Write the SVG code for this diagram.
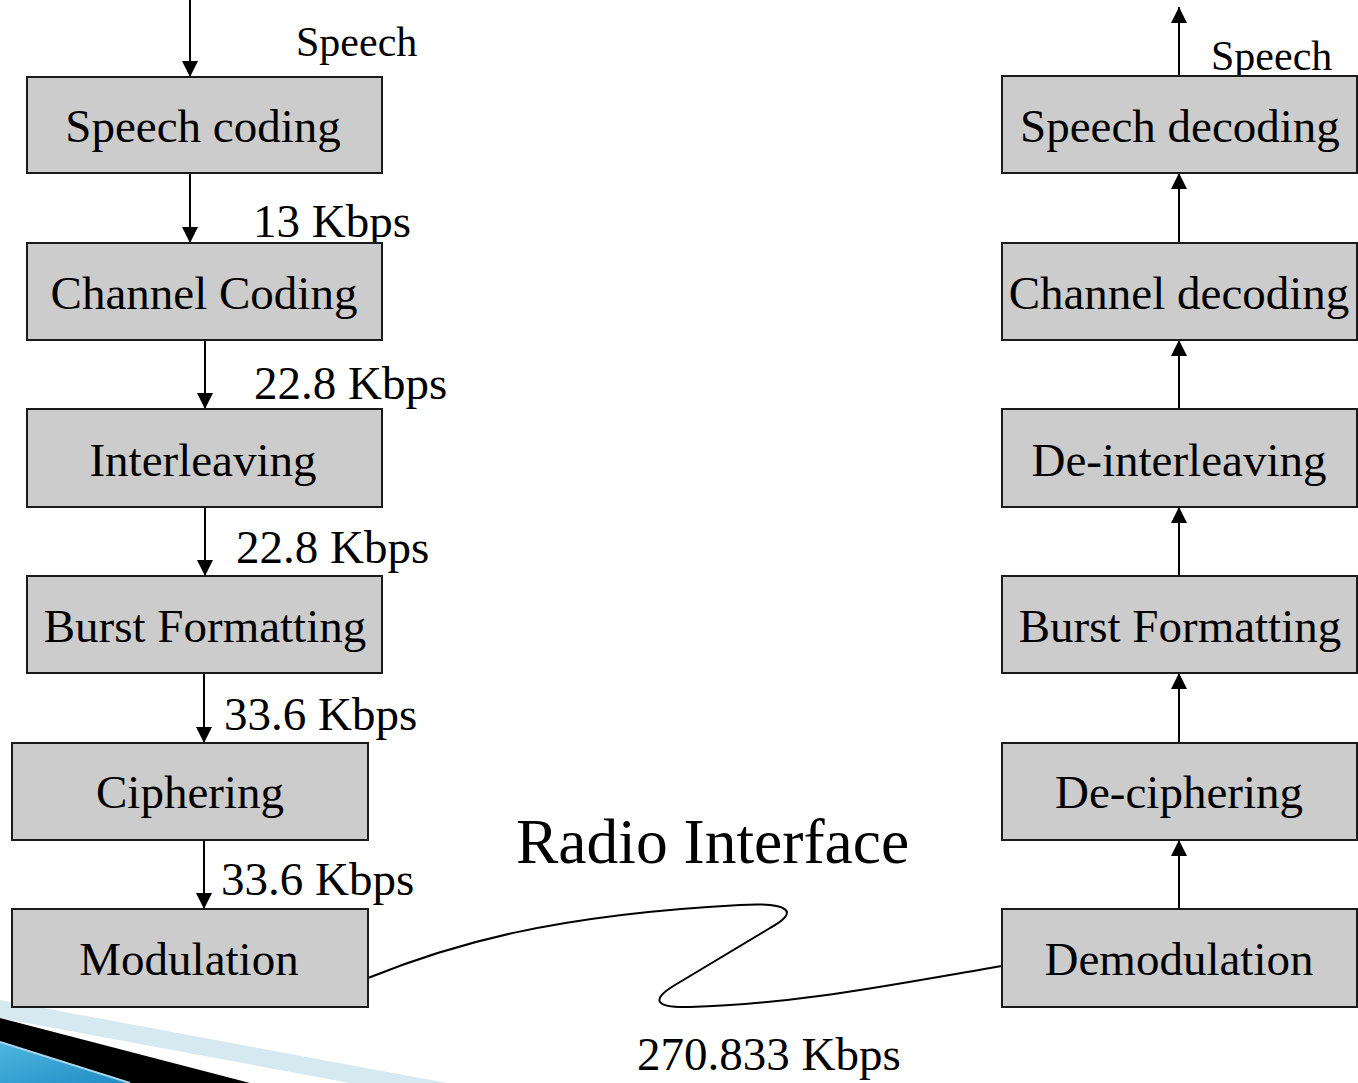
<svg xmlns="http://www.w3.org/2000/svg" width="1358" height="1083" viewBox="0 0 1358 1083">
<style>
.box{fill:#cccccc;stroke:#1a1a1a;stroke-width:2}
.lbl{font-family:"Liberation Serif","Times New Roman",serif;font-size:47px;fill:#000;text-anchor:middle}
.rate{font-family:"Liberation Serif","Times New Roman",serif;font-size:47px;fill:#000}
.sm{font-family:"Liberation Serif","Times New Roman",serif;font-size:42px;fill:#000}
.big{font-family:"Liberation Serif","Times New Roman",serif;font-size:63.5px;fill:#000}
.arr{stroke:#000;stroke-width:2;fill:none;marker-end:url(#ah)}
</style>
<defs>
<marker id="ah" markerUnits="userSpaceOnUse" markerWidth="16" markerHeight="16" viewBox="0 0 16 16" refX="16" refY="8" orient="auto">
<path d="M0,0 L16,8 L0,16 Z" fill="#000"/>
</marker>
<linearGradient id="bl" x1="0" y1="0" x2="1" y2="1">
<stop offset="0" stop-color="#4fb6e0"/>
<stop offset="1" stop-color="#1f8cc4"/>
</linearGradient>
</defs>
<rect width="1358" height="1083" fill="#fff"/>
<g id="decoration">
<polygon points="0,1000 447,1083 350,1083 0,1018" fill="#d6e9f1"/>
<polygon points="0,1018 250,1083 130,1083 0,1042" fill="#000"/>
<polygon points="0,1042 130,1083 0,1083" fill="url(#bl)"/>
<line x1="0" y1="1042" x2="130" y2="1083" stroke="#a9d6ea" stroke-width="2"/>
</g>
<g id="connectors">
<line class="arr" x1="190" y1="0" x2="190" y2="77"/>
<line class="arr" x1="190" y1="173" x2="190" y2="243"/>
<line class="arr" x1="205" y1="340" x2="205" y2="409"/>
<line class="arr" x1="205" y1="507" x2="205" y2="576"/>
<line class="arr" x1="204" y1="673" x2="204" y2="743"/>
<line class="arr" x1="204" y1="840" x2="204" y2="909"/>
<line class="arr" x1="1179" y1="76" x2="1179" y2="7"/>
<line class="arr" x1="1179" y1="243" x2="1179" y2="173"/>
<line class="arr" x1="1179" y1="409" x2="1179" y2="340"/>
<line class="arr" x1="1179" y1="576" x2="1179" y2="507"/>
<line class="arr" x1="1179" y1="743" x2="1179" y2="673"/>
<line class="arr" x1="1179" y1="909" x2="1179" y2="840"/>
<path id="radio-link" d="M368,978 C450,945 550,915 740,905 C790,902 800,912 770,928 L675,985 C650,1000 655,1008 690,1007 C800,1004 900,983 1002,966" fill="none" stroke="#000" stroke-width="2"/>
</g>
<g id="labels">
<text class="sm" x="296" y="56">Speech</text>
<text class="rate" x="253" y="237">13 Kbps</text>
<text class="rate" x="254" y="399">22.8 Kbps</text>
<text class="rate" x="236" y="563">22.8 Kbps</text>
<text class="rate" x="224" y="730">33.6 Kbps</text>
<text class="rate" x="221" y="895">33.6 Kbps</text>
<text class="sm" x="1211" y="70">Speech</text>
<text class="big" x="516" y="863">Radio Interface</text>
<text class="rate" x="637" y="1070">270.833 Kbps</text>
</g>
<g id="speech-coding"><rect class="box" x="27" y="77" width="355" height="96"/><text class="lbl" x="203" y="142">Speech coding</text></g>
<g id="channel-coding"><rect class="box" x="27" y="243" width="355" height="97"/><text class="lbl" x="204" y="309">Channel Coding</text></g>
<g id="interleaving"><rect class="box" x="27" y="409" width="355" height="98"/><text class="lbl" x="203" y="476">Interleaving</text></g>
<g id="burst-formatting-tx"><rect class="box" x="27" y="576" width="355" height="97"/><text class="lbl" x="205" y="642">Burst Formatting</text></g>
<g id="ciphering"><rect class="box" x="12" y="743" width="356" height="97"/><text class="lbl" x="190" y="808">Ciphering</text></g>
<g id="modulation"><rect class="box" x="12" y="909" width="356" height="98"/><text class="lbl" x="189" y="975">Modulation</text></g>
<g id="speech-decoding"><rect class="box" x="1002" y="76" width="355" height="97"/><text class="lbl" x="1180" y="142">Speech decoding</text></g>
<g id="channel-decoding"><rect class="box" x="1002" y="243" width="355" height="97"/><text class="lbl" x="1179" y="309">Channel decoding</text></g>
<g id="de-interleaving"><rect class="box" x="1002" y="409" width="355" height="98"/><text class="lbl" x="1179" y="476">De-interleaving</text></g>
<g id="burst-formatting-rx"><rect class="box" x="1002" y="576" width="355" height="97"/><text class="lbl" x="1180" y="642">Burst Formatting</text></g>
<g id="de-ciphering"><rect class="box" x="1002" y="743" width="355" height="97"/><text class="lbl" x="1179" y="808">De-ciphering</text></g>
<g id="demodulation"><rect class="box" x="1002" y="909" width="355" height="98"/><text class="lbl" x="1179" y="975">Demodulation</text></g>
</svg>
